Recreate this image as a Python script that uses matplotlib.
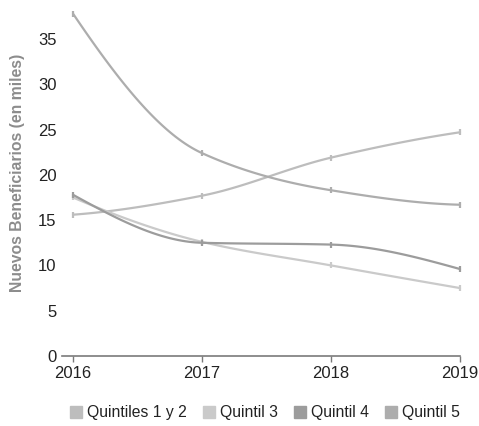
import numpy as np
import matplotlib
matplotlib.use("Agg")
import matplotlib.pyplot as plt
from matplotlib.lines import Line2D

plt.rcParams['font.family'] = ['Liberation Sans', 'DejaVu Sans']

years = [2016, 2017, 2018, 2019]
series_names = ["Quintiles 1 y 2", "Quintil 3", "Quintil 4", "Quintil 5"]
q12 = [15.6, 17.7, 21.9, 24.7]
q3 = [17.5, 12.6, 10.0, 7.5]
q4 = [17.8, 12.5, 12.3, 9.6]
q5 = [37.8, 22.4, 18.3, 16.7]
colors = ["#bdbdbd", "#cacaca", "#9c9c9c", "#adadad"]
yticks = [0, 5, 10, 15, 20, 25, 30, 35]


def smooth(x, y, n=40):
    # monotone cubic (PCHIP) curve through the data points, for display only
    x = np.asarray(x, float)
    y = np.asarray(y, float)
    h = np.diff(x)
    d = np.diff(y) / h
    m = np.zeros_like(y)
    for k in range(1, len(y) - 1):
        if d[k - 1] * d[k] > 0:
            w1 = 2 * h[k] + h[k - 1]
            w2 = h[k] + 2 * h[k - 1]
            m[k] = (w1 + w2) / (w1 / d[k - 1] + w2 / d[k])
        else:
            m[k] = 0.0

    def end(h0, h1, d0, d1):
        e = ((2 * h0 + h1) * d0 - h0 * d1) / (h0 + h1)
        if np.sign(e) != np.sign(d0):
            e = 0.0
        elif np.sign(d0) != np.sign(d1) and abs(e) > abs(3 * d0):
            e = 3 * d0
        return e

    m[0] = end(h[0], h[1], d[0], d[1])
    m[-1] = end(h[-1], h[-2], d[-1], d[-2])
    xs, ys = [], []
    t = np.linspace(0, 1, n)
    h00 = 2 * t ** 3 - 3 * t ** 2 + 1
    h10 = t ** 3 - 2 * t ** 2 + t
    h01 = -2 * t ** 3 + 3 * t ** 2
    h11 = t ** 3 - t ** 2
    for k in range(len(y) - 1):
        xs.extend(x[k] + t * h[k])
        ys.extend(h00 * y[k] + h10 * h[k] * m[k] + h01 * y[k + 1] + h11 * h[k] * m[k + 1])
    return np.array(xs), np.array(ys)


fig = plt.figure(figsize=(4.79, 4.26), dpi=100)
ax = fig.add_axes([62 / 479, 1 - 356 / 426, (460 - 62) / 479, (356 - 10) / 426])

data = [q12, q3, q4, q5]
for vals, col in zip(data, colors):
    sx, sy = smooth(years, vals)
    ax.plot(sx, sy, color=col, lw=1.6, solid_capstyle='round', clip_on=False)
    ax.plot(years, vals, linestyle='none', marker='|', ms=4, mew=1.6, color=col, clip_on=False)

ax.set_xlim(2016 - 11 / 129, 2019)
ax.set_ylim(0, 38.2)
ax.set_xticks(years)
ax.set_xticklabels([str(y) for y in years])
ax.set_yticks(yticks)
for s in ['top', 'right', 'left']:
    ax.spines[s].set_visible(False)
ax.spines['bottom'].set_color('#7a7a7a')
ax.spines['bottom'].set_linewidth(1.2)
ax.tick_params(axis='y', length=0, pad=4, labelsize=12, labelcolor='#222222')
ax.tick_params(axis='x', length=4, width=1.0, color='#7a7a7a', pad=3, labelsize=12, labelcolor='#222222')
ax.set_ylabel("Nuevos Beneficiarios (en miles)", fontsize=11.3, fontweight='bold', color='#8c8c8c')
ax.yaxis.set_label_coords((25 - 62) / 398, (356 - 173) / 346)

handles = [Line2D([], [], linestyle='none', marker='s', ms=9, mfc=c, mec=c) for c in colors]
fig.legend(handles, series_names, loc='center', bbox_to_anchor=(265 / 479, 1 - 413 / 426), ncol=4,
           frameon=False, fontsize=11.3, handlelength=0.8, handletextpad=0.3, columnspacing=1.0,
           labelcolor='#222222')

fig.savefig("out.png", dpi=100)
